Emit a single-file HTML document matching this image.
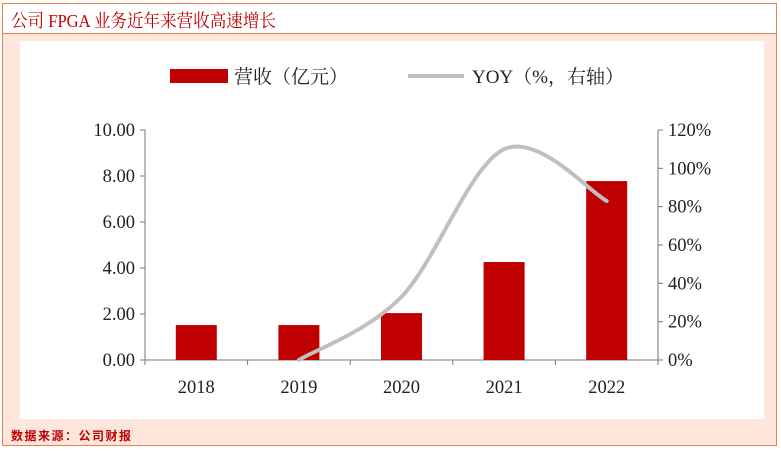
<!DOCTYPE html>
<html><head><meta charset="utf-8"><style>
body{margin:0;width:781px;height:451px;background:#fff;font-family:"Liberation Serif","Noto Serif CJK SC",serif;overflow:hidden;position:relative}
#frame{position:absolute;left:2px;top:3px;width:775px;height:443px;border:1px solid #e8824a;box-sizing:border-box;background:#fde6db}
#titlebar{position:absolute;left:0;top:0;width:100%;height:30px;background:#fff;border-bottom:1.5px solid #e8824a;box-sizing:border-box}
#title{position:absolute;left:8px;top:3px;color:#c00000;font-size:18px;font-family:"Liberation Serif","Noto Serif CJK SC",serif;transform:scaleX(0.92);transform-origin:left}
#panel{position:absolute;left:17px;top:37px;width:744px;height:378px;background:#fff}
#src{position:absolute;left:8px;top:423px;color:#c00000;font-size:12px;font-weight:bold;font-family:"Liberation Sans","Noto Sans CJK SC",sans-serif;letter-spacing:1.5px}
svg{position:absolute;left:0;top:0}
</style></head><body>
<div id="frame">
<div id="titlebar"><div id="title">公司 FPGA 业务近年来营收高速增长</div></div>
<div id="panel"></div>
<div id="src">数据来源：公司财报</div>
</div>
<svg id="chart" width="781" height="451"></svg>
<script>
const categories=["2018","2019","2020","2021","2022"];
const revenue=[1.52,1.52,2.04,4.26,7.78];
const yoy=[null,0,33,110,83];
const leftTicks=[0,2,4,6,8,10];
const rightTicks=[0,20,40,60,80,100,120];
const NS="http://www.w3.org/2000/svg";
const svg=document.getElementById('chart');
const X0=145,X1=658,Y0=360,Y1=130;
const band=(X1-X0)/categories.length;
const xc=i=>X0+band*(i+0.5);
const yL=v=>Y0-(v/10)*(Y0-Y1);
const yR=v=>Y0-(v/120)*(Y0-Y1);
function mk(t,a){const e=document.createElementNS(NS,t);for(const k in a)e.setAttribute(k,a[k]);svg.appendChild(e);return e;}
let e=mk('line',{x1:X0,y1:Y1,x2:X0,y2:Y0,stroke:'#777','stroke-width':1});

e=mk('line',{x1:X1,y1:Y1,x2:X1,y2:Y0,stroke:'#777','stroke-width':1});

e=mk('line',{x1:X0,y1:Y0,x2:X1,y2:Y0,stroke:'#777','stroke-width':1});

leftTicks.forEach(v=>{mk('line',{x1:X0-5,y1:yL(v),x2:X0,y2:yL(v),stroke:'#777'});
 const t=mk('text',{x:X0-10,y:yL(v)+6,'text-anchor':'end','font-size':18.5,fill:'#222'});t.textContent=v.toFixed(2);
 });
rightTicks.forEach(v=>{mk('line',{x1:X1,y1:yR(v),x2:X1+5,y2:yR(v),stroke:'#777'});
 const t=mk('text',{x:X1+10,y:yR(v)+6,'font-size':18.5,fill:'#222'});t.textContent=v+'%';
 });
for(let i=0;i<=categories.length;i++)mk('line',{x1:X0+band*i,y1:Y0,x2:X0+band*i,y2:Y0+5,stroke:'#777'});
categories.forEach((c,i)=>{const t=mk('text',{x:xc(i),y:Y0+33,'text-anchor':'middle','font-size':18.5,fill:'#222'});t.textContent=c;
 });
revenue.forEach((v,i)=>{const b=mk('rect',{x:xc(i)-20.5,y:yL(v),width:41,height:Y0-yL(v),fill:'#c00000'});
 });
const pts=[];yoy.forEach((v,i)=>{if(v!==null)pts.push([xc(i),yR(v)]);});
let d='M'+pts[0][0]+','+pts[0][1];
for(let i=0;i<pts.length-1;i++){const p0=pts[i-1]||pts[i],p1=pts[i],p2=pts[i+1],p3=pts[i+2]||p2;
 d+=` C${p1[0]+(p2[0]-p0[0])/6},${p1[1]+(p2[1]-p0[1])/6} ${p2[0]-(p3[0]-p1[0])/6},${p2[1]-(p3[1]-p1[1])/6} ${p2[0]},${p2[1]}`;}
const ln=mk('path',{d:d,fill:'none',stroke:'#c0c0c0','stroke-width':4,'stroke-linecap':'round'});

const lr=mk('rect',{x:170,y:69,width:58,height:14,fill:'#c00000'});

let lt=mk('text',{x:234,y:83,'font-size':19,fill:'#222'});lt.textContent='营收（亿元）';

const ll=mk('line',{x1:408,y1:76,x2:464,y2:76,stroke:'#c0c0c0','stroke-width':4});

lt=mk('text',{x:472,y:83,'font-size':19,fill:'#222'});lt.textContent='YOY（%，右轴）';

</script>
</body></html>
